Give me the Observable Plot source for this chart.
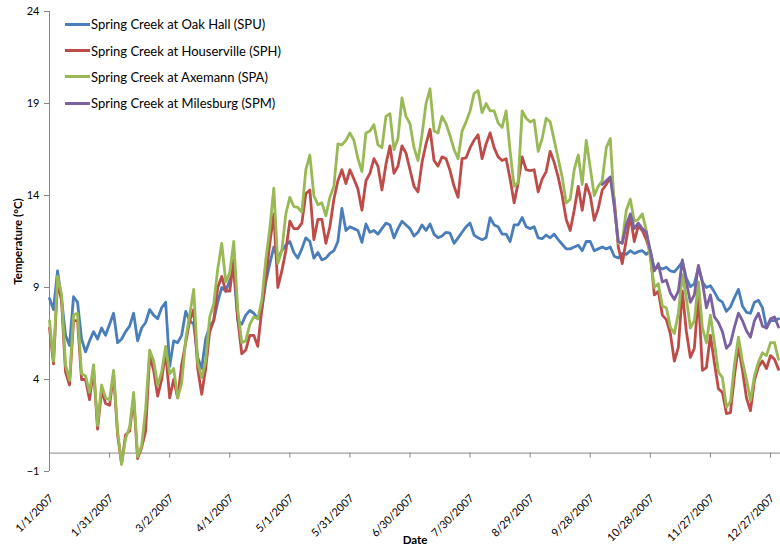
<!DOCTYPE html>
<html>
<head>
<meta charset="utf-8">
<script src="https://cdn.jsdelivr.net/npm/d3@7"></script>
<script src="https://cdn.jsdelivr.net/npm/@observablehq/plot@0.6"></script>
<style>
  body { margin: 0; background: #fff; }
  #chart { position: relative; width: 780px; height: 548px; font-family: Lato, "Open Sans", sans-serif; }
  #chart svg [aria-label="y-axis label"], #chart svg [aria-label="x-axis label"] { font-weight: bold; font-size: 11.5px; }
  .legend { position: absolute; left: 65px; top: 11px; font-size: 13px; color: #000; }
  .legend .row { display: flex; align-items: center; height: 26.4px; white-space: nowrap; }
  .legend .swatch { width: 25px; height: 3px; margin-right: 1px; }
</style>
</head>
<body>
<div id="chart"></div>
<script>
// Daily stream temperature along Spring Creek, 2007, one reading every second day.
const firstDay = new Date(Date.UTC(2007, 0, 1));
const stepDays = 2;

const siteNames = [
  "Spring Creek at Oak Hall (SPU)",
  "Spring Creek at Houserville (SPH)",
  "Spring Creek at Axemann (SPA)",
  "Spring Creek at Milesburg (SPM)"
];
const siteColors = ["#4a7ebb", "#be4b48", "#98b954", "#7d60a0"];

// Oak Hall (SPU), from 1/1/2007
const spuTemps = [
  8.4, 7.8, 9.9, 8.4, 6.4, 5.85, 8.5, 8.2, 6.2, 5.5,
  6.1, 6.6, 6.2, 6.8, 6.4, 7.0, 7.6, 6.0, 6.2, 6.6,
  6.9, 7.6, 6.1, 6.8, 7.1, 7.8, 7.5, 7.3, 7.9, 8.2,
  4.7, 6.1, 6.0, 6.4, 7.7, 7.2, 7.0, 5.2, 4.6, 6.2,
  6.9, 7.2, 8.2, 9.0, 8.8, 9.4, 9.9, 7.2, 7.0, 7.5,
  7.75, 7.6, 7.3, 7.8, 9.3, 10.3, 11.2, 10.6, 11.0, 11.3,
  11.5, 10.9, 10.6, 11.1, 11.7, 11.5, 10.6, 10.9, 10.5, 10.6,
  10.85, 11.0, 11.5, 13.3, 12.1, 12.3, 12.2, 12.1, 11.45, 12.45,
  12.0, 12.1, 11.9, 12.2, 12.5, 12.4, 11.7, 12.2, 12.6, 12.4,
  12.2, 11.8, 12.0, 12.4, 12.1, 12.45, 11.9, 11.7, 11.8, 12.0,
  11.95, 11.4, 11.7, 12.0, 12.3, 12.5, 11.85, 11.7, 11.6, 11.7,
  12.8, 12.4, 12.3, 11.9, 11.9, 11.5, 12.4, 12.4, 12.8, 12.3,
  12.2, 12.3, 11.7, 11.65, 11.85, 11.7, 11.9, 11.6, 11.35, 11.1,
  11.1, 11.2, 11.3, 11.0, 11.5, 11.5, 11.0, 11.1, 11.2, 11.1,
  11.2, 10.7, 10.6, 10.85, 10.8, 11.0, 10.85, 10.95, 11.0, 10.8,
  11.0, 10.0, 10.1, 10.0, 10.1, 9.9, 9.85, 10.1, 10.4, 9.5,
  9.05, 9.2, 10.1, 9.3, 9.0, 9.1, 8.75, 8.35, 8.2, 7.7,
  7.95, 8.45, 8.9, 8.0, 7.65, 7.6, 8.2, 8.3, 7.9, 6.8,
  7.2, 7.2, 7.3
];

// Houserville (SPH), from 1/1/2007
const sphTemps = [
  6.8, 4.85, 9.3, 8.3, 4.4, 3.7, 7.2, 7.2, 4.0, 4.0,
  2.9, 4.6, 1.3, 3.4, 2.7, 2.6, 4.3, 1.0, -0.6, 1.0,
  1.2, 3.0, -0.3, 0.3, 1.2, 5.3, 4.5, 3.1, 4.0, 5.5,
  3.0, 4.0, 3.0, 4.8, 6.0, 7.2, 7.8, 4.6, 3.2, 4.6,
  6.6, 7.2, 9.0, 9.6, 8.8, 8.8, 10.5, 7.3, 5.4, 5.6,
  6.4, 6.4, 5.8, 7.8, 9.5, 11.4, 13.0, 9.0, 9.9, 11.0,
  12.6, 12.2, 12.2, 12.5, 14.1, 14.3, 11.6, 12.7, 12.7, 11.4,
  12.3, 13.8, 14.8, 15.4, 14.65, 15.4, 14.9, 14.35, 13.2, 14.8,
  15.2, 16.0, 15.6, 14.3, 15.7, 16.7, 15.2, 15.6, 16.7, 16.3,
  15.4, 14.5, 14.2, 15.8, 16.8, 17.6, 15.9, 15.6, 16.1, 16.0,
  15.35, 14.5, 13.9, 16.0, 16.05, 16.6, 17.0, 17.3, 16.0, 16.8,
  17.4, 16.6, 16.1, 15.9, 16.0, 14.9, 13.6, 14.7, 16.1, 15.4,
  15.35, 15.4, 14.2, 14.9, 15.3, 16.4, 15.8, 15.0, 14.0, 12.7,
  12.1, 13.2, 14.5, 13.2, 14.6, 14.0, 12.65, 13.3, 14.3, 14.6,
  15.0, 13.8, 11.2, 10.3, 11.6, 12.9, 11.5, 12.35, 12.1, 11.6,
  10.9, 8.6, 8.8, 7.5, 7.25, 6.5, 5.0, 5.75, 8.8, 6.6,
  5.2, 5.7, 8.6, 4.5, 4.65, 6.4, 4.9, 3.5, 3.3, 2.15,
  2.2, 4.2, 5.8, 4.5, 3.0, 2.3, 3.95, 4.7, 5.0, 4.6,
  5.3, 5.1, 4.55
];

// Axemann (SPA), from 1/1/2007
const spaTemps = [
  7.2, 5.0, 9.6, 8.65, 4.8, 3.95, 7.5, 7.6, 4.3, 4.2,
  3.3, 4.8, 1.5, 3.7, 3.0, 2.9, 4.5, 1.2, -0.6, 0.8,
  1.4, 3.3, -0.2, 0.4, 2.4, 5.6, 5.0, 3.7, 4.4, 5.8,
  4.3, 4.6, 3.0, 3.8, 6.2, 7.5, 8.9, 4.9, 4.1, 5.0,
  7.4, 8.1, 10.0, 11.4, 9.3, 9.8, 11.5, 7.8, 6.0, 6.1,
  7.0, 7.4, 7.3, 8.3, 10.5, 12.2, 14.4, 10.3, 11.0, 13.0,
  13.9, 13.4, 13.35, 13.1, 15.4, 16.2, 14.0, 13.5, 13.6, 12.9,
  13.9, 14.5, 16.8, 16.75, 17.0, 17.4, 17.0, 16.0, 15.3, 17.4,
  17.5, 17.85, 16.75, 16.6, 18.3, 18.45, 16.5, 17.1, 19.3, 18.3,
  17.9, 16.6, 15.9, 17.3, 19.0, 19.8, 17.5, 17.4, 18.3, 17.9,
  17.25, 16.5, 16.0, 17.5, 18.0, 18.6, 19.55, 19.7, 18.5, 19.0,
  18.6, 18.6, 17.95, 17.7, 18.6, 16.4, 14.5, 14.7, 18.6, 18.2,
  18.0, 18.1, 16.4, 17.1, 18.2, 18.0, 17.0, 16.0, 15.0, 13.6,
  13.8, 15.4, 16.2, 14.6, 17.0, 15.5, 14.0, 14.5, 14.8, 16.6,
  17.1, 13.5, 11.4, 11.5, 13.2, 13.8, 12.6, 12.7, 13.0, 12.1,
  10.6, 9.0, 9.2, 8.0, 7.9, 6.85, 6.5, 7.6, 9.7, 8.4,
  6.8, 7.2, 9.3, 6.8, 6.0, 7.5, 6.0, 4.4, 4.1, 2.5,
  2.8, 4.8, 6.3, 5.0, 4.0, 2.85, 4.2, 4.95, 5.45, 5.3,
  6.0, 6.0, 5.1
];

// Milesburg (SPM), logger record begins 10/4/2007
const spmStartDay = 276;
const spmTemps = [
  14.6, 14.8, 15.0, 13.4, 11.5, 11.4, 12.4, 13.0, 12.2, 12.5,
  12.2, 12.0, 11.0, 9.9, 10.3, 9.3, 9.4, 8.7, 8.35, 8.8,
  10.5, 9.3, 8.2, 8.6, 10.2, 9.3, 7.9, 8.6, 7.4, 7.1,
  6.6, 5.7, 5.95, 6.85, 7.6, 7.2, 6.65, 6.3, 7.2, 7.6,
  6.9, 6.8, 7.3, 7.4, 6.85
];

// Axis ticks
const yTicks = [-1, 4, 9, 14, 19, 24];
const xTickDays = [0, 30, 60, 90, 120, 150, 180, 210, 240, 270, 300, 330, 360];

const series = [
  {site: siteNames[0], startDay: 0, temps: spuTemps},
  {site: siteNames[1], startDay: 0, temps: sphTemps},
  {site: siteNames[2], startDay: 0, temps: spaTemps},
  {site: siteNames[3], startDay: spmStartDay, temps: spmTemps}
];

const readings = series.flatMap(s =>
  s.temps.map((t, i) => ({
    site: s.site,
    date: d3.utcDay.offset(firstDay, s.startDay + i * stepDays),
    temp: t
  }))
);

const xTicks = xTickDays.map(d => d3.utcDay.offset(firstDay, d));
const axisGray = "#868686";

const chart = Plot.plot({
  width: 780,
  height: 548,
  marginLeft: 49,
  marginRight: 0,
  marginTop: 11,
  marginBottom: 77,
  style: {fontFamily: "Lato, 'Open Sans', sans-serif", fontSize: "11px", color: "#000", background: "#fff"},
  x: {type: "utc", domain: [firstDay, d3.utcDay.offset(firstDay, 365)]},
  y: {domain: [-1, 24]},
  color: {domain: siteNames, range: siteColors},
  marks: [
    // horizontal axis line crossing at 0 °C, with its tick marks
    Plot.ruleY([0], {stroke: axisGray, strokeWidth: 1}),
    Plot.ruleX(xTicks, {x: d => d, y1: 0, y2: 0, insetBottom: -5, stroke: axisGray}),
    // vertical axis line
    Plot.ruleX([firstDay], {stroke: axisGray}),
    Plot.axisY({
      ticks: yTicks,
      tickSize: 5,
      tickPadding: 5,
      stroke: axisGray,
      label: "Temperature (°C)",
      labelAnchor: "center",
      labelArrow: "none",
      labelOffset: 36
    }),
    Plot.axisX({
      ticks: xTicks,
      tickFormat: d3.utcFormat("%-m/%-d/%Y"),
      tickRotate: -45,
      tickSize: 0,
      tickPadding: 25,
      dx: 2,
      label: "Date",
      labelAnchor: "center",
      labelArrow: "none",
      labelOffset: 72
    }),
    Plot.line(readings, {
      x: "date",
      y: "temp",
      z: "site",
      stroke: "site",
      strokeWidth: 2.8,
      strokeLinejoin: "round",
      strokeLinecap: "round"
    })
  ]
});

const holder = document.getElementById("chart");
holder.appendChild(chart);

// Legend drawn over the upper-left corner of the plot area
const legend = document.createElement("div");
legend.className = "legend";
siteNames.forEach((name, i) => {
  const row = document.createElement("div");
  row.className = "row";
  const swatch = document.createElement("span");
  swatch.className = "swatch";
  swatch.style.background = siteColors[i];
  const label = document.createElement("span");
  label.textContent = name;
  row.appendChild(swatch);
  row.appendChild(label);
  legend.appendChild(row);
});
holder.appendChild(legend);
</script>
</body>
</html>
